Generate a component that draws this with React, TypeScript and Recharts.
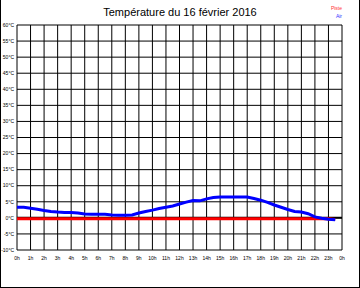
import React from 'react';
import { LineChart, Line, XAxis, YAxis, CartesianGrid, ReferenceLine } from 'recharts';

const hours = [0, 0.5, 1, 1.5, 2, 2.5, 3, 3.5, 4, 4.5, 5, 5.5, 6, 6.5, 7, 7.5, 8, 8.5, 9, 9.5, 10, 10.5, 11, 11.5, 12, 12.5, 13, 13.5, 14, 14.5, 15, 15.5, 16, 16.5, 17, 17.5, 18, 18.5, 19, 19.5, 20, 20.5, 21, 21.5, 22, 22.5, 23, 23.5];
const airTemps = [3.3, 3.3, 3.0, 2.7, 2.3, 2.0, 1.8, 1.7, 1.7, 1.5, 1.2, 1.1, 1.1, 1.1, 0.9, 0.8, 0.8, 0.9, 1.5, 2.0, 2.4, 2.9, 3.3, 3.7, 4.3, 4.9, 5.4, 5.3, 5.9, 6.3, 6.5, 6.5, 6.5, 6.5, 6.5, 6.0, 5.5, 4.8, 4.0, 3.3, 2.6, 2.0, 1.8, 1.3, 0.3, -0.1, -0.4, -0.6];
const pisteTemps = [-0.3, -0.3, -0.3, -0.3, -0.3, -0.3, -0.3, -0.3, -0.3, -0.3, -0.3, -0.3, -0.3, -0.3, -0.3, -0.3, -0.3, -0.3, -0.3, -0.3, -0.3, -0.3, -0.3, -0.3, -0.3, -0.3, -0.3, -0.3, -0.3, -0.3, -0.3, -0.3, -0.3, -0.3, -0.3, -0.3, -0.3, -0.3, -0.3, -0.3, -0.3, -0.3, -0.3, -0.3, -0.3, -0.3, -0.3, -0.5];
const xTicks = [0, 1, 2, 3, 4, 5, 6, 7, 8, 9, 10, 11, 12, 13, 14, 15, 16, 17, 18, 19, 20, 21, 22, 23, 24];
const yTicks = [-10, -5, 0, 5, 10, 15, 20, 25, 30, 35, 40, 45, 50, 55, 60];
const title = 'Température du 16 février 2016';
const seriesNames = { piste: 'Piste', air: 'Air' };

const data = hours.map((h, i) => ({ h, air: airTemps[i], piste: pisteTemps[i] }));

const font = '"Liberation Sans", Arial, sans-serif';

export default function App() {
  return (
    <div style={{ position: 'absolute', left: 0, top: 0, width: 360, height: 288, background: '#fff', fontFamily: font }}>
      <div style={{ position: 'absolute', left: 0, top: 0, width: 358, height: 287, borderLeft: '1px solid #000', borderRight: '1px solid #000', borderBottom: '1px solid #000' }} />
      <div style={{ position: 'absolute', left: 0, top: 6, width: 360, textAlign: 'center', fontSize: 11, lineHeight: '13px', color: '#000' }}>{title}</div>
      <div style={{ position: 'absolute', right: 18, top: 5, fontSize: 5, lineHeight: '6px', color: '#ff3333', textAlign: 'right' }}>{seriesNames.piste}</div>
      <div style={{ position: 'absolute', right: 18, top: 13, fontSize: 5, lineHeight: '6px', color: '#3333ff', textAlign: 'right' }}>{seriesNames.air}</div>
      <div style={{ position: 'absolute', left: 0, top: 0 }}>
        <LineChart width={360} height={288} data={data} margin={{ top: 25, right: 18, bottom: 8, left: 0 }}>
          <CartesianGrid stroke="#000" strokeWidth={1} horizontal vertical />
          <XAxis
            type="number"
            dataKey="h"
            domain={[0, 24]}
            ticks={xTicks}
            interval={0}
            tickFormatter={(v: number) => `${v % 24}h`}
            axisLine={false}
            tickLine={false}
            tickSize={0}
            tickMargin={6}
            height={30}
            tick={{ fontSize: 5, fill: '#000', fontFamily: font }}
          />
          <YAxis
            type="number"
            domain={[-10, 60]}
            ticks={yTicks}
            interval={0}
            tickFormatter={(v: number) => `${v}°C`}
            axisLine={false}
            tickLine={false}
            tickSize={0}
            tickMargin={3}
            width={17}
            tick={{ fontSize: 5, fill: '#000', fontFamily: font }}
          />
          <ReferenceLine y={0} stroke="#000" strokeWidth={2} />
          <Line type="linear" dataKey="piste" name={seriesNames.piste} stroke="#ff0000" strokeWidth={3} dot={false} isAnimationActive={false} />
          <Line type="linear" dataKey="air" name={seriesNames.air} stroke="#0000ff" strokeWidth={3} dot={false} isAnimationActive={false} />
        </LineChart>
      </div>
    </div>
  );
}
